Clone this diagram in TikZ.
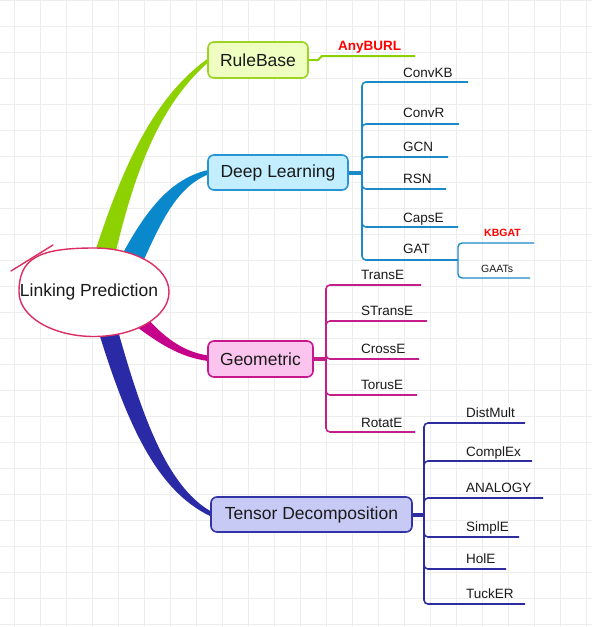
\documentclass[tikz,border=0pt]{standalone}
\usepackage{fontspec}
\setmainfont{Liberation Sans}
\definecolor{gridc}{HTML}{EDEDED}
\definecolor{txt}{HTML}{1A1A1A}
\definecolor{brgreen}{HTML}{8ED100}
\definecolor{brblue}{HTML}{0A88CC}
\definecolor{brmag}{HTML}{C5008A}
\definecolor{brnavy}{HTML}{2A2AA6}
\definecolor{rootc}{HTML}{DA2E62}
\definecolor{rbF}{HTML}{EFFFC2}
\definecolor{rbB}{HTML}{9CD424}
\definecolor{dlF}{HTML}{C2EEFF}
\definecolor{dlB}{HTML}{2894D4}
\definecolor{geF}{HTML}{FBC4EE}
\definecolor{geB}{HTML}{C8168C}
\definecolor{tdF}{HTML}{C8CAF6}
\definecolor{tdB}{HTML}{3333A8}
\definecolor{dlL}{HTML}{1C8AC8}
\definecolor{geL}{HTML}{C41E8A}
\definecolor{tdL}{HTML}{2D2DA0}
\definecolor{redlbl}{HTML}{FF0000}
\begin{document}
\begin{tikzpicture}[x=1pt,y=-1pt,
  gridline/.style={draw=gridc, line width=1pt},
  lbl/.style={anchor=base west, inner sep=0pt, text=txt, font=\fontsize{13.5}{16}\selectfont},
  smalllbl/.style={anchor=base west, inner sep=0pt, text=txt, font=\fontsize{10.5}{12}\selectfont},
  redlabel/.style={anchor=base west, inner sep=0pt, text=redlbl, font=\bfseries\fontsize{13.5}{16}\selectfont},
  redsmall/.style={anchor=base west, inner sep=0pt, text=redlbl, font=\bfseries\fontsize{10.5}{12}\selectfont},
  topic/.style={draw, rounded corners=6pt, line width=1.6pt, inner sep=0pt, text=txt, font=\fontsize{17.5}{20}\selectfont},
  subline/.style={line width=1.6pt, rounded corners=4pt},
  stem/.style={line width=4pt}
]
\fill[white] (0,0) rectangle (592,627);
\useasboundingbox (0,0) rectangle (592,627);
\foreach \i in {0,...,22} \draw[gridline] ({14.5+26*\i},0) -- ({14.5+26*\i},627);
\foreach \j in {0,...,24} \draw[gridline] (0,{26*\j}) -- (592,{26*\j});

% tapered main branches
\fill[brgreen] (94,255) .. controls (120,175) and (150,100) .. (208,58.5) -- (208,62.5) .. controls (160,105) and (135,170) .. (115,255) -- cycle;
\fill[brblue] (115,268) .. controls (140,220) and (165,180) .. (208,170) -- (208,174.5) .. controls (175,188) and (160,225) .. (140,268) -- cycle;
\fill[brmag] (140,310) .. controls (165,340) and (185,352) .. (208,355.5) -- (208,361) .. controls (180,357) and (160,345) .. (125,318) -- cycle;
\fill[brnavy] (95,320) .. controls (125,420) and (155,490) .. (211,516.5) -- (211,511.5) .. controls (165,485) and (140,410) .. (115,320) -- cycle;

% root (hand-drawn ellipse)
\draw[rootc, line width=1.4pt, fill=white]
  (19,292) .. controls (19,258.6) and (37.75,248) .. (94,248)
  .. controls (135.4,248) and (169,267.4) .. (169,292)
  .. controls (169,316.6) and (135.4,336.5) .. (94,336.5)
  .. controls (52.6,336.5) and (19,316.6) .. (19,292) -- cycle;
\node[inner sep=0pt, text=txt, font=\fontsize{17.5}{20}\selectfont] (root) at (89,292) {Linking Prediction};
\coordinate (rootmarkA) at (11,271);
\coordinate (rootmarkB) at (53,245);
\draw[rootc, line width=1.4pt, line cap=round] (rootmarkA) -- (rootmarkB);

% topics
\node[topic, draw=rbB, fill=rbF, minimum width=100pt, minimum height=36pt] (rb) at (258,60) {RuleBase};
\node[topic, draw=dlB, fill=dlF, minimum width=140pt, minimum height=35pt] (dl) at (278,172.5) {Deep Learning};
\node[topic, draw=geB, fill=geF, minimum width=105pt, minimum height=36pt] (ge) at (260.5,359) {Geometric};
\node[topic, draw=tdB, fill=tdF, minimum width=201pt, minimum height=35pt] (td) at (311.5,514.5) {Tensor Decomposition};

% RuleBase child
\coordinate (rbj) at (318,60);
\coordinate (rbk) at (322,56);
\coordinate (anyburl-e) at (415,56);
\draw[brgreen, line width=2pt, line join=round] (rb.east) -- (rbj) -- (rbk) -- (anyburl-e);
\node[redlabel] (anyburl) at (338,50) {AnyBURL};

% Deep Learning children
\coordinate (dlj) at (362,172.5);
\draw[dlL, stem] (dl.east) -- (dlj);
\foreach \n/\t/\y/\e/\b in {convkb/ConvKB/82/468/77, convr/ConvR/124/459/117, gcn/GCN/157/448/151, rsn/RSN/189/446/183, capse/CapsE/227/458/222, gat/GAT/260/458/253} {
  \coordinate (\n-e) at (\e,\y);
  \draw[dlL, subline] (dlj) |- (\n-e);
  \node[lbl] (\n) at (403,\b) {\t};
}
\coordinate (kbgat-e) at (534,243);
\coordinate (gaats-e) at (530,278);
\draw[dlL, subline, line width=1.4pt] (gat-e) |- (kbgat-e);
\draw[dlL, subline, line width=1.4pt] (gat-e) |- (gaats-e);
\node[redsmall] (kbgat) at (484,236) {KBGAT};
\node[smalllbl] (gaats) at (481,272) {GAATs};

% Geometric children
\coordinate (gej) at (326,359);
\draw[geL, stem] (ge.east) -- (gej);
\foreach \n/\t/\y/\e/\b in {transe/TransE/285/421/279, stranse/STransE/321/427/315, crosse/CrossE/359/419/353, toruse/TorusE/395/417/389, rotate/RotatE/432/415/427} {
  \coordinate (\n-e) at (\e,\y);
  \draw[geL, subline] (gej) |- (\n-e);
  \node[lbl] (\n) at (361,\b) {\t};
}

% Tensor children
\coordinate (tdj) at (424,514.5);
\draw[tdL, stem] (td.east) -- (tdj);
\foreach \n/\t/\y/\e/\b in {distmult/DistMult/423/525/417, complex/ComplEx/461/532/456, analogy/ANALOGY/498/543/492, simple/SimplE/537/519/531, hole/HolE/569/506/563, tucker/TuckER/604/525/598} {
  \coordinate (\n-e) at (\e,\y);
  \draw[tdL, subline] (tdj) |- (\n-e);
  \node[lbl] (\n) at (466,\b) {\t};
}
\end{tikzpicture}
\end{document}
